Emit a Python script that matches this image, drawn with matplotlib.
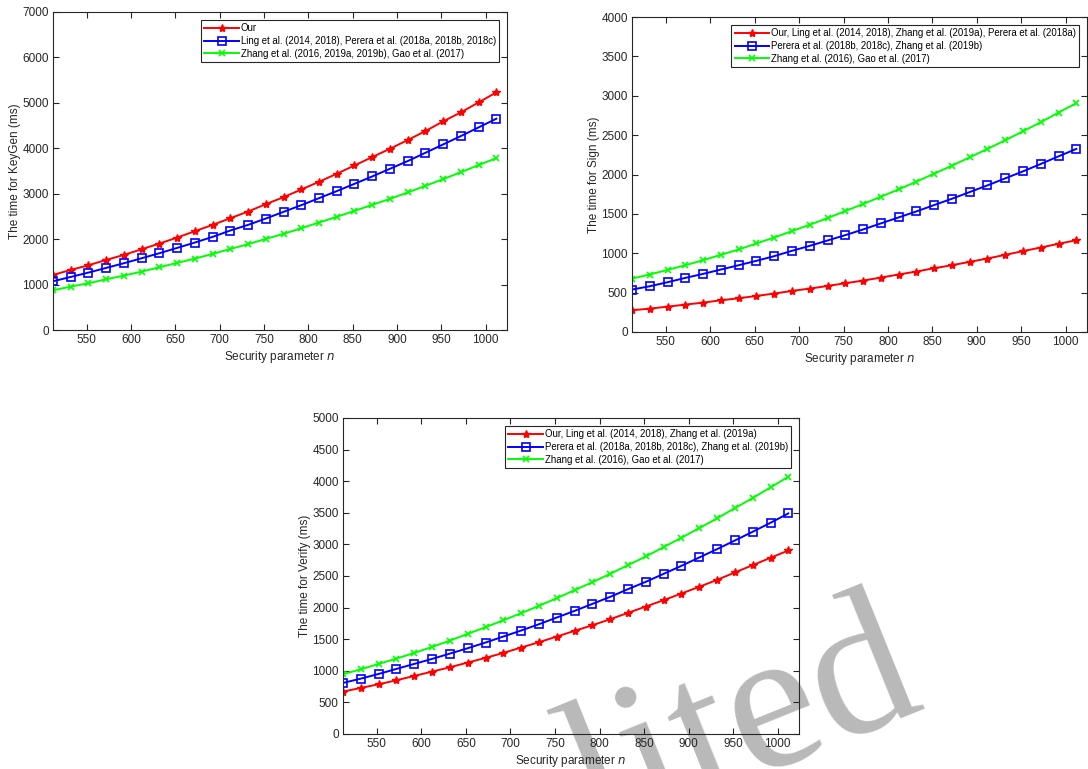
import matplotlib
matplotlib.use("Agg")
import matplotlib.pyplot as plt

plt.rcParams['font.family'] = ['Liberation Sans', 'DejaVu Sans']

n = [512, 532, 552, 572, 592, 612, 632, 652, 672, 692, 712, 732, 752,
     772, 792, 812, 832, 852, 872, 892, 912, 932, 952, 972, 992, 1012]

keygen_our = [1212, 1323, 1425, 1543, 1653, 1778, 1903, 2035, 2175, 2314, 2461, 2608, 2770,
              2924, 3093, 3262, 3439, 3622, 3806, 3990, 4181, 4379, 4592, 4791, 5011, 5231]
keygen_ling = [1073, 1168, 1264, 1367, 1470, 1580, 1690, 1807, 1925, 2050, 2190, 2314, 2454,
               2601, 2748, 2902, 3057, 3218, 3380, 3549, 3718, 3901, 4085, 4269, 4460, 4651]
keygen_zhang = [874, 955, 1029, 1117, 1198, 1286, 1381, 1477, 1572, 1675, 1785, 1888, 2006,
                2116, 2241, 2366, 2491, 2623, 2755, 2887, 3027, 3174, 3321, 3475, 3630, 3784]

sign_our = [276, 297, 322, 348, 373, 403, 428, 458, 488, 522, 551, 585, 619,
            653, 691, 730, 768, 810, 848, 891, 933, 980, 1027, 1073, 1120, 1166]
sign_perera = [539, 581, 632, 687, 738, 793, 848, 904, 963, 1031, 1094, 1162, 1230,
               1302, 1379, 1455, 1531, 1612, 1692, 1777, 1862, 1951, 2040, 2134, 2231, 2325]
sign_zhang = [679, 730, 789, 848, 912, 980, 1048, 1124, 1200, 1281, 1362, 1446, 1536,
              1625, 1718, 1811, 1909, 2011, 2112, 2218, 2325, 2435, 2549, 2664, 2787, 2906]

verify_our = [671, 729, 787, 850, 919, 987, 1056, 1130, 1204, 1283, 1368, 1452, 1542,
              1632, 1721, 1816, 1917, 2017, 2118, 2223, 2329, 2439, 2556, 2672, 2788, 2904]
verify_perera = [808, 876, 950, 1030, 1109, 1188, 1272, 1357, 1447, 1542, 1637, 1737, 1843,
                 1948, 2059, 2170, 2292, 2408, 2534, 2661, 2793, 2925, 3062, 3200, 3342, 3490]
verify_zhang = [945, 1024, 1109, 1193, 1283, 1378, 1478, 1584, 1690, 1800, 1911, 2028, 2149,
                2276, 2402, 2534, 2672, 2809, 2957, 3105, 3258, 3411, 3575, 3733, 3902, 4071]

keygen_labels = ["Our",
                 "Ling et al. (2014, 2018), Perera et al. (2018a, 2018b, 2018c)",
                 "Zhang et al. (2016, 2019a, 2019b), Gao et al. (2017)"]
sign_labels = ["Our, Ling et al. (2014, 2018), Zhang et al. (2019a), Perera et al. (2018a)",
               "Perera et al. (2018b, 2018c), Zhang et al. (2019b)",
               "Zhang et al. (2016), Gao et al. (2017)"]
verify_labels = ["Our, Ling et al. (2014, 2018), Zhang et al. (2019a)",
                 "Perera et al. (2018a, 2018b, 2018c), Zhang et al. (2019b)",
                 "Zhang et al. (2016), Gao et al. (2017)"]

xticks = [550, 600, 650, 700, 750, 800, 850, 900, 950, 1000]

W, H = 1088, 769
fig = plt.figure(figsize=(W / 100, H / 100), dpi=100)

# watermark
fig.text(595 / W, (H - 840) / H, "lited", family="Liberation Serif", fontsize=145,
         color="#b9b9b9", rotation=22, rotation_mode="anchor", ha="left", va="baseline",
         zorder=-5)

def px_axes(left, top, right, bottom):
    return fig.add_axes([left / W, (H - bottom) / H, (right - left) / W, (bottom - top) / H])

dark = "#262626"

def style(ax, ymax, ystep, ylabel, series, labels):
    styles = [dict(color="#ff0000", marker="*", markersize=6, markerfacecolor="#ff0000"),
              dict(color="#0000ff", marker="s", markersize=5.5, markerfacecolor="none",
                   markeredgewidth=1.2),
              dict(color="#00ff00", marker="x", markersize=4.5, markeredgewidth=1.2)]
    for ys, st, lab in zip(series, styles, labels):
        ax.plot(n, ys, linewidth=1.4, label=lab, **st)
    ax.set_xlim(512, 1024)
    ax.set_ylim(0, ymax)
    ax.set_xticks(xticks)
    ax.set_yticks(list(range(0, ymax + 1, ystep)))
    ax.tick_params(direction="in", length=4, width=0.8, top=True, right=True,
                   labelsize=8.5, colors=dark, pad=3)
    for sp in ax.spines.values():
        sp.set_color(dark)
        sp.set_linewidth(0.8)
    ax.set_facecolor("none")
    ax.set_xlabel("Security parameter $n$", fontsize=8.5, color=dark, labelpad=2)
    ax.set_ylabel(ylabel, fontsize=8.5, color=dark, labelpad=1)
    leg = ax.legend(loc="upper right", fontsize=6.9, frameon=True, fancybox=False,
                    edgecolor=dark, framealpha=1, handlelength=3.6, handletextpad=0.2,
                    borderpad=0.35, labelspacing=0.3, borderaxespad=0.8)
    leg.get_frame().set_linewidth(0.8)

ax1 = px_axes(53, 12, 507, 330)
style(ax1, 7000, 1000, "The time for KeyGen (ms)",
      [keygen_our, keygen_ling, keygen_zhang], keygen_labels)

ax2 = px_axes(632, 17, 1087, 332)
style(ax2, 4000, 500, "The time for Sign (ms)",
      [sign_our, sign_perera, sign_zhang], sign_labels)

ax3 = px_axes(343, 418, 799, 734)
style(ax3, 5000, 500, "The time for Verify (ms)",
      [verify_our, verify_perera, verify_zhang], verify_labels)

fig.savefig("out.png", dpi=100)
